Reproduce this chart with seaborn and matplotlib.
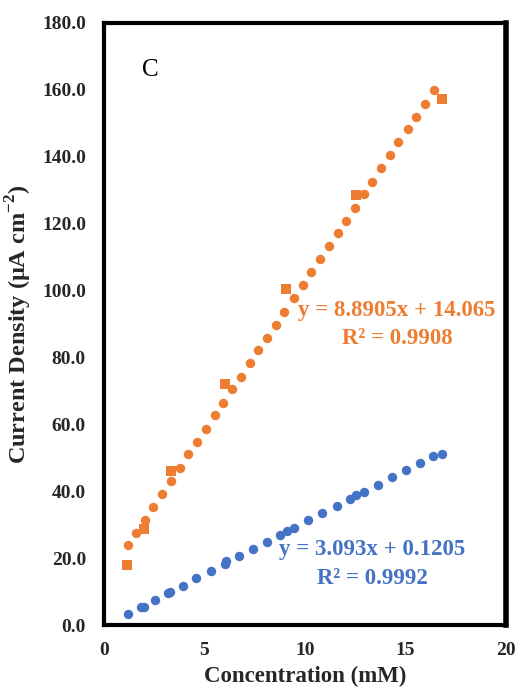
import matplotlib
matplotlib.use("Agg")
import matplotlib.pyplot as plt
import seaborn as sns
import pandas as pd
import numpy as np

# ---- data ----
blue_x = [1.17, 1.83, 1.97, 2.55, 3.2, 3.3, 3.93, 4.6, 5.3, 6.0, 6.05, 6.7, 7.4, 8.1,
          8.75, 9.08, 9.47, 10.17, 10.87, 11.57, 12.25, 12.53, 12.95, 13.65, 14.33,
          15.02, 15.73, 16.38, 16.83]
blue_y = [3.2, 5.3, 5.5, 7.5, 9.6, 9.9, 11.8, 14.0, 16.2, 18.2, 19.1, 20.5, 22.6, 24.8,
          26.9, 28.2, 29.1, 31.3, 33.5, 35.6, 37.7, 38.8, 39.8, 42.0, 44.2,
          46.3, 48.5, 50.6, 51.1]

orange_x = [1.17, 1.6, 2.05, 2.45, 2.9, 3.33, 3.77, 4.2, 4.63, 5.08, 5.52, 5.93, 6.38,
            6.82, 7.25, 7.68, 8.12, 8.57, 8.98, 9.43, 9.88, 10.32, 10.75, 11.18, 11.62,
            12.05, 12.5, 12.93, 13.33, 13.78, 14.22, 14.65, 15.1, 15.53, 15.97, 16.4]
orange_y = [23.8, 27.6, 31.5, 35.4, 39.3, 43.1, 47.0, 51.0, 54.8, 58.7, 62.7, 66.5, 70.5,
            74.3, 78.2, 82.1, 85.9, 89.8, 93.7, 97.7, 101.6, 105.4, 109.3, 113.2, 117.1,
            120.9, 124.8, 128.8, 132.6, 136.5, 140.4, 144.3, 148.2, 152.0, 155.9, 159.9]

square_x = [1.12, 1.98, 3.33, 6.02, 9.05, 12.52, 16.82]
square_y = [17.9, 28.7, 46.1, 72.1, 100.5, 128.5, 157.3]

x_ticks = [0, 5, 10, 15, 20]
y_ticks = [0, 20, 40, 60, 80, 100, 120, 140, 160, 180]

orange_eq = "y = 8.8905x + 14.065"
orange_r2 = "R² = 0.9908"
blue_eq = "y = 3.093x + 0.1205"
blue_r2 = "R² = 0.9992"
panel_label = "C"
x_label = "Concentration (mM)"
y_label = "Current Density (μA cm$^{\\mathbf{-2}}$)"

BLUE = "#4472C4"
ORANGE = "#ED7D31"

sns.set_theme(style="white")
plt.rcParams["font.family"] = ["Liberation Serif", "DejaVu Serif"]
plt.rcParams["mathtext.fontset"] = "custom"
plt.rcParams["mathtext.rm"] = "Liberation Serif"
plt.rcParams["mathtext.bf"] = "Liberation Serif:bold"

fig = plt.figure(figsize=(5.16, 6.92), dpi=100)
ax = fig.add_axes([104 / 516, 1 - 625 / 692, (506 - 104) / 516, (625 - 23) / 692])

df_b = pd.DataFrame({"x": blue_x, "y": blue_y})
df_o = pd.DataFrame({"x": orange_x, "y": orange_y})
df_s = pd.DataFrame({"x": square_x, "y": square_y})

sns.scatterplot(data=df_b, x="x", y="y", ax=ax, color=BLUE, marker="o", s=46,
                linewidth=0, zorder=3)
sns.scatterplot(data=df_o, x="x", y="y", ax=ax, color=ORANGE, marker="o", s=46,
                linewidth=0, zorder=3)
sns.scatterplot(data=df_s, x="x", y="y", ax=ax, color=ORANGE, marker="s", s=44,
                linewidth=0, zorder=3)

ax.set_xlim(0, 20)
ax.set_ylim(0, 180)
ax.set_xticks(x_ticks)
ax.set_xticklabels([str(t) for t in x_ticks])
ax.set_yticks(y_ticks)
ax.set_yticklabels([f"{t:.1f}" for t in y_ticks])
ax.tick_params(axis="both", length=0, labelsize=14)
ax.tick_params(axis="x", pad=12)
ax.tick_params(axis="y", pad=13)
for lab in ax.get_xticklabels() + ax.get_yticklabels():
    lab.set_fontweight("bold")

ax.set_xlabel(x_label, fontsize=16.5, fontweight="bold", labelpad=5)
ax.set_ylabel(y_label, fontsize=17.5, fontweight="bold", labelpad=6)

for sp in ax.spines.values():
    sp.set_visible(True)
    sp.set_color("black")
    sp.set_linewidth(3)
ax.spines["right"].set_linewidth(4)
ax.grid(False)

ax.text(2.3, 166, panel_label, fontsize=18, color="black", ha="center", va="center")

ax.text(14.58, 94.0, orange_eq, fontsize=16.5, fontweight="bold", color=ORANGE,
        ha="center", va="center")
ax.text(14.58, 85.6, orange_r2, fontsize=16.5, fontweight="bold", color=ORANGE,
        ha="center", va="center")
ax.text(13.36, 22.6, blue_eq, fontsize=16.5, fontweight="bold", color=BLUE,
        ha="center", va="center")
ax.text(13.36, 13.9, blue_r2, fontsize=16.5, fontweight="bold", color=BLUE,
        ha="center", va="center")

fig.savefig("out.png", dpi=100)
